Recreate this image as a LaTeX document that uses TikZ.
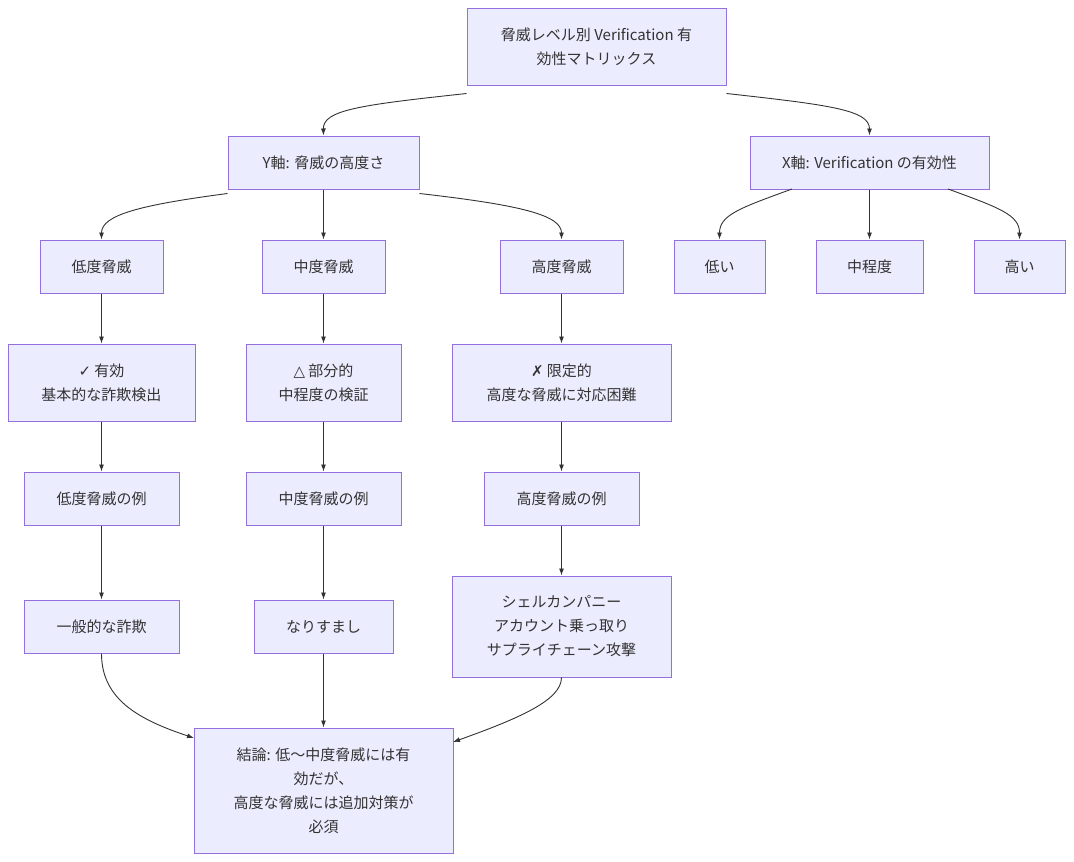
\documentclass[tikz,border=0pt]{standalone}
\usepackage{fontspec}
\setmainfont{Noto Sans CJK JP}
\newfontfamily\sym{DejaVu Sans}
\usetikzlibrary{arrows.meta}
\definecolor{nfill}{HTML}{ECECFF}
\definecolor{nbord}{HTML}{9370DB}
\definecolor{lcol}{HTML}{333333}
\begin{document}
\begin{tikzpicture}[x=1pt,y=-1pt,
  box/.style={draw=nbord,fill=nfill,line width=1pt,inner sep=0pt,align=center,text=lcol,
    font=\fontsize{15}{24}\selectfont},
  arr/.style={draw=lcol,line width=0.9pt,-{Latex[length=7pt,width=5pt]}}]
\useasboundingbox (0,0) rectangle (1074,862);
\newcommand{\bx}[6]{\node[box,minimum width=#4pt,minimum height=#5pt] (#1) at (#2,#3) {#6};}
\bx{top}{596.5}{46.5}{259}{77}{脅威レベル別 Verification 有\\効性マトリックス}
\bx{Y}{323.5}{162.5}{191}{53}{Y軸: 脅威の高度さ}
\bx{X}{869.5}{162.5}{239}{53}{X軸: Verification の有効性}
\bx{low}{101.5}{266.5}{123}{53}{低度脅威}
\bx{mid}{323.5}{266.5}{123}{53}{中度脅威}
\bx{high}{561.5}{266.5}{123}{53}{高度脅威}
\bx{xl}{719.5}{266.5}{91}{53}{低い}
\bx{xm}{869.5}{266.5}{107}{53}{中程度}
\bx{xh}{1019.5}{266.5}{91}{53}{高い}
\bx{el}{101.5}{382.5}{187}{77}{{\sym ✓} 有効\\基本的な詐欺検出}
\bx{em}{323.5}{382.5}{155}{77}{{\sym △} 部分的\\中程度の検証}
\bx{eh}{561.5}{382.5}{219}{77}{{\sym ✗} 限定的\\高度な脅威に対応困難}
\bx{rl}{101.5}{498.5}{155}{53}{低度脅威の例}
\bx{rm}{323.5}{498.5}{155}{53}{中度脅威の例}
\bx{rh}{561.5}{498.5}{155}{53}{高度脅威の例}
\bx{sl}{101.5}{626.5}{155}{53}{一般的な詐欺}
\bx{sm}{323.5}{626.5}{139}{53}{なりすまし}
\bx{sh}{561.5}{626.5}{219}{101}{シェルカンパニー\\アカウント乗っ取り\\サプライチェーン攻撃}
\bx{c}{323.5}{790.5}{259}{125}{結論: 低～中度脅威には有\\効だが、\\高度な脅威には追加対策が\\必須}
\draw[arr] ([yshift=-8pt]top.south west) .. controls (360,105) and (323,110) .. (Y.north);
\draw[arr] ([yshift=-8pt]top.south east) .. controls (830,105) and (869.5,110) .. (X.north);
\draw[arr] ([yshift=-4pt]Y.south west) .. controls (140,205) and (101.5,215) .. (low.north);
\draw[arr] (Y.south) -- (mid.north);
\draw[arr] ([yshift=-4pt]Y.south east) .. controls (520,205) and (561.5,215) .. (high.north);
\draw[arr] (792,189) .. controls (740,208) and (719.5,215) .. (xl.north);
\draw[arr] (X.south) -- (xm.north);
\draw[arr] (948,189) .. controls (1000,208) and (1019.5,215) .. (xh.north);
\foreach \a/\b in {low/el,mid/em,high/eh,el/rl,em/rm,eh/rh,rl/sl,rm/sm,rh/sh,sm/c}
  \draw[arr] (\a.south) -- (\b.north);
\draw[arr] (sl.south) .. controls (101.5,700) and (140,720) .. (194,738);
\draw[arr] (sh.south) .. controls (561.5,700) and (520,718) .. (453,742);
\end{tikzpicture}
\end{document}
